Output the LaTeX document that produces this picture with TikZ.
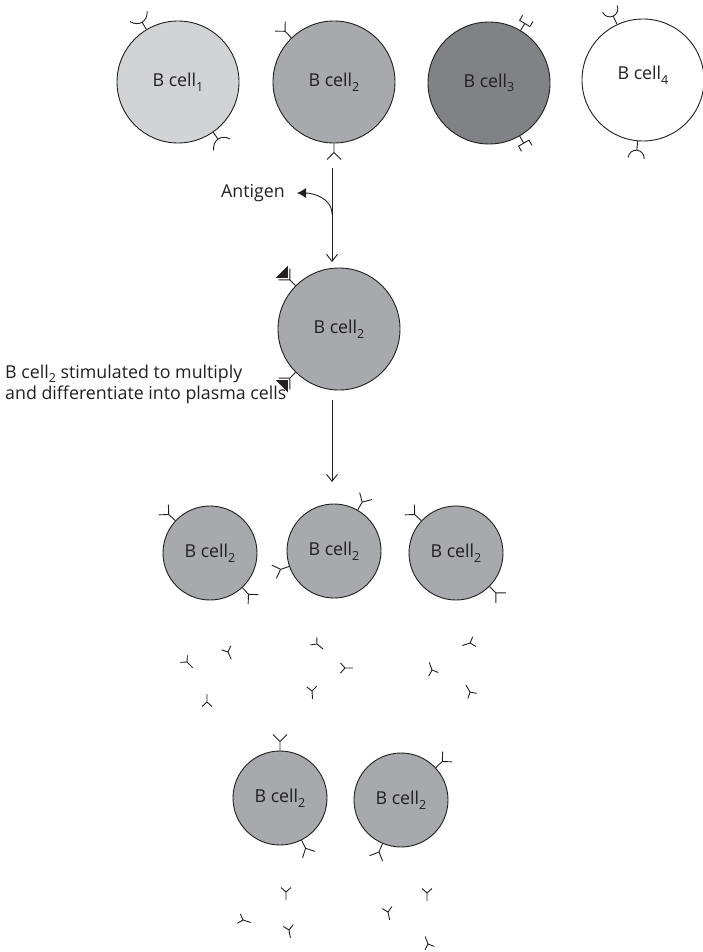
\documentclass[tikz,border=0pt]{standalone}
\usepackage{fontspec}
\setmainfont{Open Sans}
\usetikzlibrary{arrows.meta}

\definecolor{ink}{RGB}{35,31,32}
\definecolor{cellone}{RGB}{210,211,213}
\definecolor{celltwo}{RGB}{167,169,172}
\definecolor{cellthree}{RGB}{128,130,133}

\newcommand{\bsub}[1]{\raisebox{-4.5pt}{\fontsize{12.5}{12.5}\selectfont #1}}

\tikzset{
  cell/.style={circle, draw=ink, line width=0.9pt, minimum size=122pt, inner sep=0pt, text=ink},
  plasma/.style={cell, fill=celltwo, minimum size=94pt},
  receptor/.style={draw=ink, line width=0.9pt},
  % receptor shapes, stem along +y
  yrec/.pic={\draw[receptor] (0,0) -- (0,9) (-7,16) -- (0,9) -- (7,16);},
  arcrec/.pic={\draw[receptor] (0,0) -- (0,8.25) (-10,15) .. controls (-5,6) and (5,6) .. (10,15);},
  sqrec/.pic={\draw[receptor] (0,0) -- (0,8) (-6,14) -- (-6,8) -- (6,8) -- (6,14);},
  cuprec/.pic={\draw[receptor] (0,0) -- (0,9) (-8,17) arc[start angle=180, end angle=360, radius=8];},
  agrec/.pic={
    \draw[receptor] (0,0) -- (0,8) (-8,16) -- (0,8) -- (8,16);
    \fill[ink] (0,11) -- (-8.5,19.5) -- (8.5,19.5) -- cycle;},
  % free antibody, origin at the fork, stem along -y
  freeab/.pic={\draw[receptor] (0,0) -- (0,-8) (-5,4.5) -- (0,0) -- (5,4.5);},
  flow/.style={draw=ink, line width=0.9pt, -{Straight Barb[length=7pt,width=11pt]}},
}

\begin{document}
\begin{tikzpicture}[x=1pt, y=1pt, font=\fontsize{17.8}{21}\selectfont, text=ink]
\useasboundingbox (0,0) rectangle (702,-952);

% resting B cells
\node (c1) [cell, fill=cellone] at (178,-82) {B cell\bsub{1}};
\node (c2) [cell, fill=celltwo] at (334,-82) {B cell\bsub{2}};
\node (c3) [cell, fill=cellthree] at (489,-83) {B cell\bsub{3}};
\node (c4) [cell, fill=white, label={[yshift=5pt, text=ink]center:B cell\bsub{4}}] at (643,-80) {};

\pic[rotate=31] at (c1.121) {arcrec};
\pic[rotate=-145] at (c1.-55) {arcrec};
\pic[rotate=44] at (c2.134) {yrec};
\pic[rotate=-180] at (c2.-90) {yrec};
\pic[rotate=-31] at (c3.59) {sqrec};
\pic[rotate=-150] at (c3.-60) {sqrec};
\pic[rotate=25] at (c4.115) {cuprec};
\pic[rotate=-185] at (c4.-95) {cuprec};

% antigen binding
\coordinate (s1) at (332,-168);
\coordinate (e1) at (332,-262);
\coordinate (j1) at (332,-214);
\node (antigen) [anchor=east, inner sep=0pt] at (285,-193) {Antigen};
\draw[flow] (s1) -- (e1);
\draw[draw=ink, line width=0.9pt, -{Latex[length=9pt,width=10pt]}] (j1) to[out=90, in=0] ([xshift=12pt]antigen.east);

\node (m) [cell, fill=celltwo] at (339,-329) {B cell\bsub{2}};
\pic[rotate=45] at (m.135) {agrec};
\pic[rotate=-225] at (m.-135) {agrec};

% clonal expansion
\node (stim) [anchor=base west, align=left, inner sep=0pt] at (5,-399)
  {B cell\bsub{2} stimulated to multiply\\and differentiate into plasma cells};
\coordinate (s2) at (332,-400);
\coordinate (e2) at (332,-482);
\draw[flow] (s2) -- (e2);

\node (p1) [plasma] at (210,-553) {B cell\bsub{2}};
\node (p2) [plasma] at (334,-551) {B cell\bsub{2}};
\node (p3) [plasma] at (456,-553) {B cell\bsub{2}};
\pic[rotate=47] at (p1.137) {yrec};
\pic[rotate=-137] at (p1.-47) {yrec};
\pic[rotate=-30] at (p2.60) {yrec};
\pic[rotate=109] at (p2.199) {yrec};
\pic[rotate=47] at (p3.137) {yrec};
\pic[rotate=-135] at (p3.-45) {yrec};

\node (q1) [plasma] at (280,-798) {B cell\bsub{2}};
\node (q2) [plasma] at (401,-800) {B cell\bsub{2}};
\pic[rotate=0] at (q1.90) {yrec};
\pic[rotate=-153] at (q1.-63) {yrec};
\pic[rotate=-47] at (q2.43) {yrec};
\pic[rotate=-203] at (q2.-113) {yrec};

% secreted antibodies
\foreach \x/\y/\a in {187/662/-45, 228/652/-66, 207/702/90,
    317/644/-40, 345/668/0, 312/691/-86,
    470/643/198, 432/670/110, 470/692/120,
    286/892/-90, 243/920/-18, 289/930/-80,
    427/893/-90, 388/912/-78, 428/944/111}
  \pic[rotate=\a+90] at (\x,-\y) {freeab};

\end{tikzpicture}
\end{document}
